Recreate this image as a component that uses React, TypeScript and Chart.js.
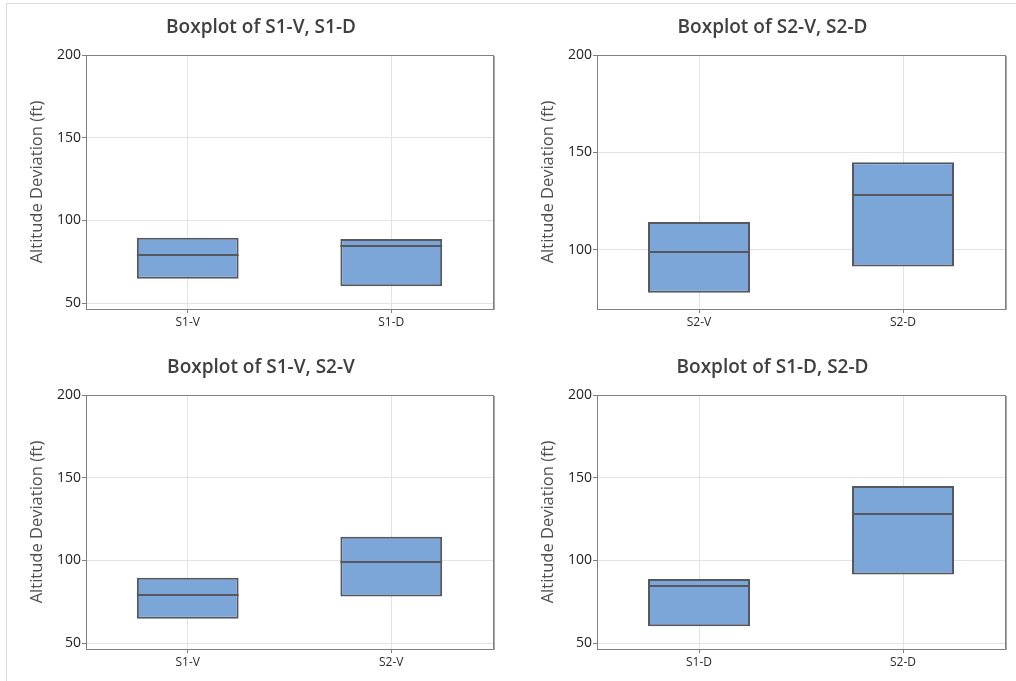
import React, { useEffect, useRef } from "react";
import { Chart, registerables } from "chart.js";

Chart.register(...registerables);

// Box statistics: [Q1, median, Q3]
const s1v = [64.7, 79.2, 89.5];
const s1d = [60.2, 84.3, 88.7];
const s2v = [78.1, 98.9, 114.3];
const s2d = [91.5, 128.1, 145.0];

const panelTitles = [
  "Boxplot of S1-V, S1-D",
  "Boxplot of S2-V, S2-D",
  "Boxplot of S1-V, S2-V",
  "Boxplot of S1-D, S2-D",
];
const panelCategories = [
  ["S1-V", "S1-D"],
  ["S2-V", "S2-D"],
  ["S1-V", "S2-V"],
  ["S1-D", "S2-D"],
];
const panelSeries = [
  [s1v, s1d],
  [s2v, s2d],
  [s1v, s2v],
  [s1d, s2d],
];
const panelYMin = [46.4, 69.7, 46.4, 46.4];
const yMax = 200;
const panelYTicks = [
  [50, 100, 150, 200],
  [100, 150, 200],
  [50, 100, 150, 200],
  [50, 100, 150, 200],
];
const yTitle = "Altitude Deviation (ft)";

// layout (style only)
const panelPos = [
  { left: 0, top: 0, padL: 29, padR: 15, yW: 57 },
  { left: 508, top: 0, padL: 32, padR: 11, yW: 57 },
  { left: 0, top: 340, padL: 29, padR: 15, yW: 57 },
  { left: 508, top: 340, padL: 32, padR: 11, yW: 57 },
];

const FONT = "'Open Sans', 'Noto Sans', sans-serif";
const BOX_FILL = "#7ca6d8";
const BOX_EDGE = "#55595f";
const AXIS = "#808080";
const GRID = "#e3e3e3";

const framePlugin = {
  id: "frame",
  beforeDatasetsDraw(chart: any) {
    const { ctx, chartArea } = chart;
    ctx.save();
    ctx.strokeStyle = AXIS;
    ctx.lineWidth = 1;
    ctx.strokeRect(
      Math.round(chartArea.left) + 0.5,
      Math.round(chartArea.top) + 0.5,
      Math.round(chartArea.right - chartArea.left),
      Math.round(chartArea.bottom - chartArea.top)
    );
    ctx.strokeStyle = "#a8a8a8";
    ctx.beginPath();
    ctx.moveTo(Math.round(chartArea.right) + 1.5, Math.round(chartArea.top) + 1);
    ctx.lineTo(Math.round(chartArea.right) + 1.5, Math.round(chartArea.bottom) + 1);
    ctx.stroke();
    ctx.restore();
  },
};

// draws each box's median line from the data, using the chart's own scales
const medianPlugin = {
  id: "median",
  afterDatasetsDraw(chart: any) {
    const { ctx } = chart;
    const meta = chart.getDatasetMeta(0);
    const yScale = chart.scales.y;
    const medians: number[] = (chart.data.datasets[0] as any).medians;
    ctx.save();
    ctx.strokeStyle = BOX_EDGE;
    ctx.lineWidth = 2;
    meta.data.forEach((bar: any, i: number) => {
      const { x, width } = bar.getProps(["x", "width"], true);
      const y = Math.round(yScale.getPixelForValue(medians[i]));
      ctx.beginPath();
      ctx.moveTo(x - width / 2, y);
      ctx.lineTo(x + width / 2, y);
      ctx.stroke();
    });
    ctx.restore();
  },
};

function Panel({ idx }: { idx: number }) {
  const ref = useRef<HTMLCanvasElement | null>(null);
  useEffect(() => {
    if (!ref.current) return;
    const pos = panelPos[idx];
    const series = panelSeries[idx];
    const ticks = panelYTicks[idx];
    const chart = new Chart(ref.current, {
      type: "bar",
      data: {
        labels: panelCategories[idx],
        datasets: [
          {
            label: "box",
            data: series.map((s) => [s[0], s[2]]),
            medians: series.map((s) => s[1]),
            backgroundColor: BOX_FILL,
            borderColor: BOX_EDGE,
            borderSkipped: false,
            borderWidth: 2,
            barPercentage: 0.5,
            categoryPercentage: 1,
          } as any,
        ],
      },
      options: {
        responsive: false,
        animation: false,
        layout: { padding: { left: pos.padL, right: pos.padR, top: 0, bottom: 0 } },
        plugins: {
          legend: { display: false },
          tooltip: { enabled: false },
          title: {
            display: true,
            text: panelTitles[idx],
            color: "#404040",
            font: { family: FONT, size: 19, weight: "600" as any, lineHeight: 1.2 },
            padding: { top: 16.6, bottom: 15.6 },
          },
        },
        scales: {
          x: {
            type: "category",
            offset: true,
            grid: { color: GRID, offset: false, tickLength: 4, tickColor: AXIS },
            border: { color: AXIS },
            ticks: { color: "#2a2a2a", font: { family: FONT, size: 12 }, padding: 2 },
            afterFit: (scale: any) => {
              scale.height = 31;
            },
          },
          y: {
            type: "linear",
            min: panelYMin[idx],
            max: yMax,
            grid: { color: GRID, tickLength: 4, tickColor: AXIS },
            border: { color: AXIS },
            ticks: { color: "#1e1e1e", font: { family: FONT, size: 14 }, padding: 1 },
            afterBuildTicks: (scale: any) => {
              scale.ticks = ticks.map((v) => ({ value: v }));
            },
            afterFit: (scale: any) => {
              scale.width = pos.yW;
            },
            title: {
              display: true,
              text: yTitle,
              color: "#505050",
              font: { family: FONT, size: 16.5, lineHeight: 1.0 },
              padding: { top: 0, bottom: 0 },
            },
          },
        },
      },
      plugins: [framePlugin, medianPlugin],
    });
    return () => chart.destroy();
  }, [idx]);
  const pos = panelPos[idx];
  return (
    <canvas
      ref={ref}
      width={508}
      height={340}
      style={{ position: "absolute", left: pos.left, top: pos.top, width: 508, height: 340, display: "block" }}
    />
  );
}

export default function App() {
  return (
    <div style={{ position: "absolute", left: 0, top: 0, width: 1016, height: 681, background: "#ffffff", overflow: "hidden" }}>
      <div
        style={{
          position: "absolute",
          left: 6,
          top: 3,
          width: 1010,
          height: 678,
          borderTop: "1px solid #dcdcdc",
          borderLeft: "1px solid #dcdcdc",
          boxSizing: "border-box",
        }}
      />
      {[0, 1, 2, 3].map((i) => (
        <Panel key={i} idx={i} />
      ))}
    </div>
  );
}
